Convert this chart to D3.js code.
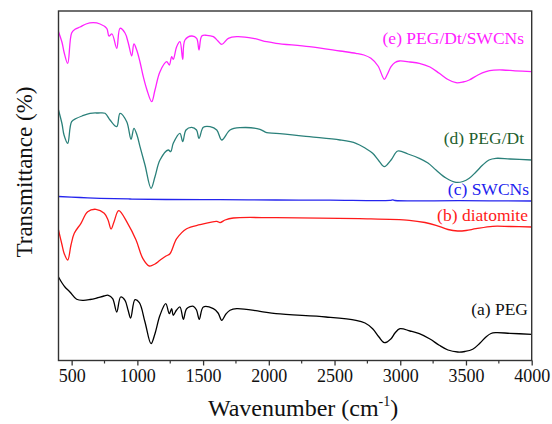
<!DOCTYPE html>
<html>
<head>
<meta charset="utf-8">
<script src="https://cdn.jsdelivr.net/npm/d3@7"></script>
<style>
  html, body { margin: 0; padding: 0; background: #fff; }
  svg { display: block; }
  svg text { font-family: "Liberation Serif", "DejaVu Serif", serif; }
</style>
</head>
<body>
<svg width="552" height="424"></svg>
<script>
// x ticks (wavenumber, cm-1)
const majorTicks = [500, 1000, 1500, 2000, 2500, 3000, 3500, 4000];
const minorTicks = [750, 1250, 1750, 2250, 2750, 3250, 3750];

// (a) PEG
const pegWn = [400, 427, 449, 487, 538, 589, 640, 691, 746, 779, 812, 843, 873, 906, 929, 949, 982, 1015, 1058, 1104, 1134, 1172, 1216, 1243, 1261, 1273, 1298, 1324, 1350, 1375, 1426, 1450, 1471, 1502, 1578, 1614, 1642, 1674, 1705, 1756, 1933, 2055, 2435, 2663, 2732, 2790, 2838, 2879, 2930, 2960, 2998, 3074, 3145, 3226, 3297, 3363, 3437, 3492, 3551, 3607, 3652, 3690, 3728, 3835, 4000];
const pegT = [83.5, 77.5, 73.5, 68.5, 61.2, 60.2, 61, 62.5, 64.5, 65.2, 61.8, 48.5, 63.5, 60.2, 50.5, 42.5, 60.8, 57.8, 38.5, 16.8, 26.8, 45.2, 56.8, 46.8, 51.8, 45.2, 50.5, 53.5, 41.2, 51.8, 54.2, 50.5, 41.2, 53.5, 51.8, 47.5, 40.2, 46.5, 50.2, 51.8, 49.2, 46.8, 43.5, 40.2, 37.5, 31.8, 23.5, 17.8, 21.8, 27.5, 31.8, 29.5, 26.8, 21.5, 15.2, 10.5, 8.5, 9, 11.2, 17.5, 23.5, 27, 27.8, 27.2, 26.2];

// (b) diatomite
const dtWn = [400, 427, 442, 470, 495, 520, 571, 622, 685, 748, 777, 800, 822, 858, 926, 990, 1041, 1091, 1134, 1172, 1218, 1248, 1299, 1375, 1477, 1604, 1629, 1667, 1730, 2055, 2689, 3069, 3188, 3272, 3363, 3437, 3500, 3576, 3703, 3835, 4000];
const dtT = [130.5, 115.5, 107.5, 100.5, 115.5, 127.2, 137.2, 148.8, 151.2, 147.2, 140.5, 131.5, 138.5, 149.8, 137.2, 120.5, 102.2, 94.5, 96.5, 100.2, 104.5, 106.8, 121.8, 131.8, 135.8, 139.2, 137.8, 140.5, 142.5, 142.8, 141.8, 140.2, 138, 135.2, 131, 129.5, 130, 131.8, 134.2, 134, 133.5];

// (c) SWCNs
const cntWn = [400, 564, 716, 944, 1218, 1629, 2055, 2466, 2922, 2943, 2960, 3455, 4000];
const cntT = [164, 163, 162.2, 161.5, 161, 160.8, 160.5, 160.3, 160.1, 160.7, 160, 159.8, 159.5];

// (d) PEG/Dt
const pdWn = [400, 427, 442, 470, 500, 538, 579, 640, 701, 754, 792, 843, 868, 919, 952, 974, 997, 1020, 1058, 1104, 1134, 1172, 1235, 1254, 1273, 1324, 1345, 1370, 1413, 1450, 1469, 1502, 1553, 1604, 1642, 1705, 1781, 1933, 1984, 2055, 2308, 2542, 2663, 2732, 2790, 2838, 2879, 2930, 2981, 3059, 3145, 3211, 3272, 3348, 3424, 3477, 3525, 3576, 3627, 3675, 3728, 3835, 4000];
const pdT = [250.5, 236.5, 225.5, 217.2, 238.8, 242.2, 244.5, 247.2, 247.5, 247.2, 240.5, 233.8, 247.2, 238.8, 221.2, 232.2, 225.5, 213.8, 195.5, 172.2, 183.8, 200.5, 210.5, 208.8, 217.2, 227.2, 218.8, 230.5, 233.2, 230.5, 222.2, 233.2, 233.8, 230.5, 220.5, 230.5, 232.8, 231.2, 227.8, 227.2, 223.8, 220.5, 217.2, 212.5, 207.2, 199.5, 193.8, 200.5, 209.5, 206.5, 202.2, 197.5, 190.5, 182.5, 178.2, 179, 182.2, 188.5, 195.5, 200.5, 202.2, 201.5, 200.5];

// (e) PEG/Dt/SWCNs
const pdcWn = [400, 427, 442, 470, 500, 526, 564, 609, 665, 716, 767, 784, 807, 843, 868, 906, 931, 957, 974, 995, 1020, 1045, 1073, 1109, 1134, 1172, 1223, 1243, 1261, 1273, 1299, 1324, 1345, 1362, 1413, 1451, 1469, 1490, 1528, 1578, 1613, 1642, 1692, 1756, 1882, 1984, 2055, 2308, 2542, 2663, 2724, 2777, 2831, 2879, 2899, 2930, 2960, 2993, 3074, 3145, 3226, 3297, 3363, 3424, 3477, 3525, 3591, 3652, 3712, 3779, 3873, 4000];
const pdcT = [328.8, 318, 308.5, 297.2, 327.5, 331.2, 333.5, 336.5, 337.8, 336.5, 332.2, 324.5, 326.5, 312.2, 332.2, 327.5, 317.5, 304.5, 316.5, 310.5, 298.5, 283.8, 270.5, 258.8, 270.5, 288.8, 298.8, 295.5, 303.8, 301.2, 313.8, 318.8, 301.2, 320.5, 324.5, 322.2, 310.5, 324.5, 325.2, 323.8, 319.5, 316.2, 322.2, 323.8, 322.2, 318.8, 317.2, 313.8, 309.5, 307.2, 305.5, 302.2, 294.5, 281.2, 285.5, 293.8, 298, 299.5, 298.5, 297.2, 293.5, 287.2, 281, 277.8, 278.5, 280.5, 285.5, 288.8, 290.3, 290.5, 289.7, 288.8];

const seriesNames = ["(a) PEG", "(b) diatomite", "(c) SWCNs", "(d) PEG/Dt", "(e) PEG/Dt/SWCNs"];
const seriesWn = [pegWn, dtWn, cntWn, pdWn, pdcWn];
const seriesT = [pegT, dtT, cntT, pdT, pdcT];

const lineColors = ["#000000", "#ff1a1a", "#2424ee", "#2a807a", "#ff22ff"];
const labelColors = ["#111111", "#ff1a1a", "#2222ee", "#1f5f2f", "#ff22ff"];
// label anchor: right end x, baseline y (in screen px)
const labelPos = [[528, 315], [528, 221], [529, 195], [524, 144], [524, 44]];

const serif = "Liberation Serif, DejaVu Serif, serif";

const svg = d3.select("svg").attr("font-family", serif);
const margin = { left: 58.5, top: 11, right: 531.7, bottom: 360.5 };

const x = d3.scaleLinear().domain([400, 4000]).range([margin.left, margin.right]);
const y = d3.scaleLinear().domain([0, 349.5]).range([margin.bottom, margin.top]);

// --- curves ---
const line = d3.line()
    .x(d => x(d[0]))
    .y(d => y(d[1]))
    .curve(d3.curveCatmullRom.alpha(0.5));

const plot = svg.append("g");
seriesNames.forEach((name, i) => {
    const pts = seriesWn[i].map((w, j) => [w, seriesT[i][j]]);
    plot.append("path")
        .datum(pts)
        .attr("fill", "none")
        .attr("stroke", lineColors[i])
        .attr("stroke-width", 1.3)
        .attr("stroke-linejoin", "round")
        .attr("d", line);
});

// --- labels ---
svg.append("g").selectAll("text")
    .data(seriesNames)
    .enter().append("text")
    .attr("x", (d, i) => labelPos[i][0])
    .attr("y", (d, i) => labelPos[i][1])
    .attr("text-anchor", "end")
    .attr("font-family", serif)
    .attr("font-size", 17.5)
    .attr("fill", (d, i) => labelColors[i])
    .text(d => d);

// --- frame ---
svg.append("rect")
    .attr("x", margin.left)
    .attr("y", margin.top)
    .attr("width", margin.right - margin.left)
    .attr("height", margin.bottom - margin.top)
    .attr("fill", "none")
    .attr("stroke", "#333")
    .attr("stroke-width", 1.4);

// --- x axis ---
const xAxis = svg.append("g")
    .attr("transform", `translate(0,${margin.bottom})`)
    .call(d3.axisBottom(x).tickValues(majorTicks).tickSize(5).tickPadding(4).tickFormat(d3.format("d")))
    .attr("font-family", serif);
xAxis.select(".domain").remove();
xAxis.selectAll(".tick line").attr("stroke", "#333").attr("stroke-width", 1.3);
xAxis.selectAll(".tick text")
    .attr("font-family", serif)
    .attr("font-size", 18)
    .attr("fill", "#111");

svg.append("g")
    .attr("transform", `translate(0,${margin.bottom})`)
    .selectAll("line")
    .data(minorTicks)
    .enter().append("line")
    .attr("x1", d => x(d)).attr("x2", d => x(d))
    .attr("y1", 0).attr("y2", 3)
    .attr("stroke", "#333")
    .attr("stroke-width", 1.2);

// --- axis titles ---
const xTitle = svg.append("text")
    .attr("x", (margin.left + margin.right) / 2 + 8)
    .attr("y", 416)
    .attr("text-anchor", "middle")
    .attr("font-family", serif)
    .attr("font-size", 24)
    .attr("fill", "#111");
xTitle.append("tspan").text("Wavenumber (cm");
xTitle.append("tspan").attr("font-size", 14).attr("dy", -10).text("-1");
xTitle.append("tspan").attr("dy", 10).text(")");

svg.append("text")
    .attr("transform", "translate(32,172) rotate(-90)")
    .attr("text-anchor", "middle")
    .attr("font-family", serif)
    .attr("font-size", 23)
    .attr("fill", "#111")
    .text("Transmittance (%)");
</script>
</body>
</html>
